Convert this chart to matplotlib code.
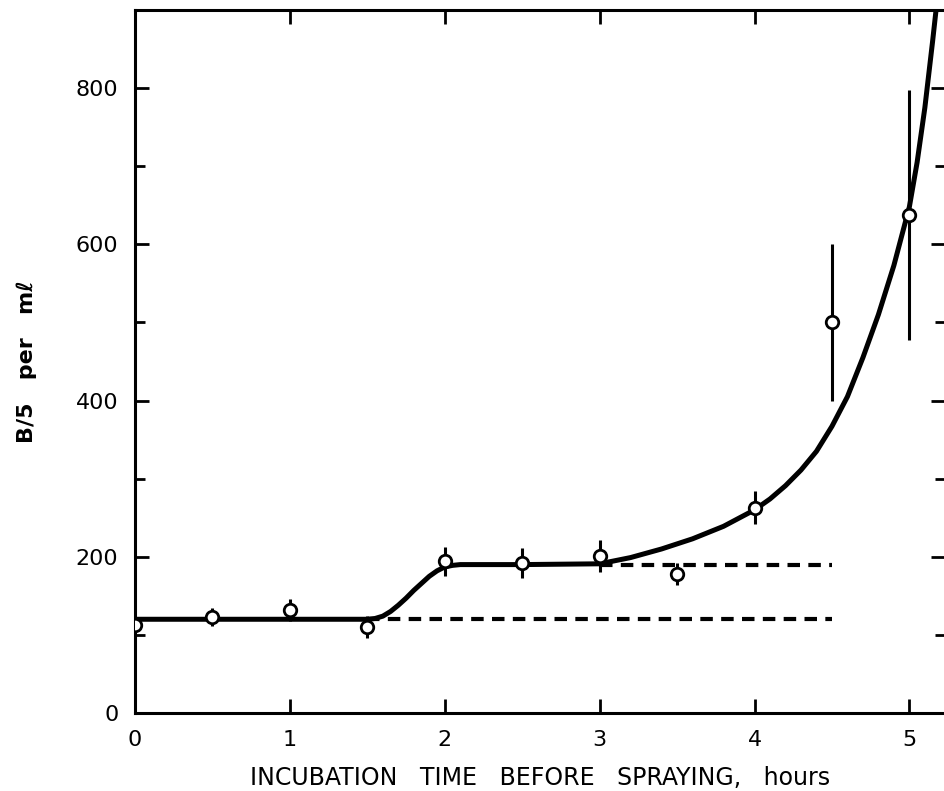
import matplotlib.pyplot as plt
from matplotlib.ticker import MultipleLocator

# measured points (incubation time, hours ; B/5 per ml)
hours = [0, 0.5, 1, 1.5, 2, 2.5, 3, 3.5, 4, 4.5, 5]
counts = [113, 123, 132, 110, 194, 192, 201, 178, 263, 500, 638]
errors = [8, 12, 14, 14, 19, 19, 20, 14, 21, 100, 160]

# hand-drawn fitted curve
curve_x = [0, 1.5, 1.55, 1.6, 1.65, 1.7, 1.75, 1.8, 1.85, 1.9, 1.95, 2.0, 2.05,
           2.1, 2.5, 3.0, 3.2, 3.4, 3.6, 3.8, 4.0, 4.1, 4.2, 4.3, 4.4, 4.5,
           4.6, 4.7, 4.8, 4.9, 5.0, 5.05, 5.1, 5.15, 5.2]
curve_y = [120, 120, 121, 124, 130, 138, 147, 157, 166, 175, 182, 187, 189,
           190, 190, 191, 199, 210, 223, 239, 260, 274, 291, 311, 335, 367,
           405, 455, 510, 573, 648, 705, 775, 860, 950]

# dashed plateau levels and their extent
plateau_low = 120
plateau_high = 190
low_span = [1.5, 4.5]
high_span = [3.0, 4.5]

fig = plt.figure(figsize=(9.45, 7.91), dpi=100)
ax = fig.add_axes([0.1429, 0.0986, 0.8571, 0.8888])

ax.plot(curve_x, curve_y, color='black', lw=3.6, solid_capstyle='round',
        solid_joinstyle='round', zorder=2)
ax.plot(low_span, [plateau_low] * 2, color='black', lw=3, dashes=(3, 2), zorder=2)
ax.plot(high_span, [plateau_high] * 2, color='black', lw=3, dashes=(3, 2), zorder=2)
ax.errorbar(hours, counts, yerr=errors, fmt='o', color='black', ecolor='black',
            elinewidth=2.2, capsize=0, markersize=9, markerfacecolor='white',
            markeredgewidth=2, zorder=3)

ax.set_xlim(0, 5.23)
ax.set_ylim(0, 900)
ax.xaxis.set_major_locator(MultipleLocator(1))
ax.yaxis.set_major_locator(MultipleLocator(200))
ax.yaxis.set_minor_locator(MultipleLocator(100))

for side in ['left', 'bottom', 'top']:
    ax.spines[side].set_linewidth(2.2)
ax.spines['right'].set_visible(False)

ax.tick_params(axis='both', which='both', direction='in', width=2, colors='black')
ax.tick_params(axis='x', which='major', length=10, top=True, labelsize=16, pad=12)
ax.tick_params(axis='y', which='major', length=10, right=True, labelsize=16, pad=12)
ax.tick_params(axis='y', which='minor', length=7, right=True)

ax.set_xlabel('INCUBATION   TIME   BEFORE   SPRAYING,   hours', fontsize=17,
              fontweight='medium', labelpad=12)
ax.set_ylabel('B/5   per   m\u2113', fontsize=16, fontweight='bold', labelpad=28)

fig.savefig('out.png', dpi=100)
